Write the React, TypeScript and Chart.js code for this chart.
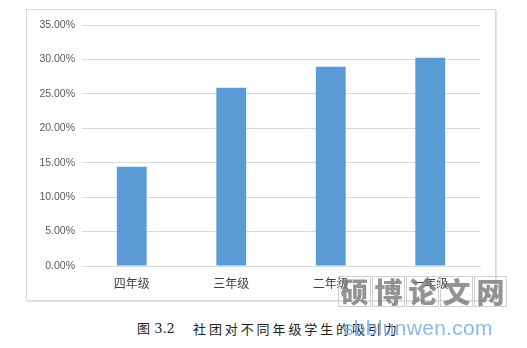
import React, { useEffect, useRef } from "react";
import { Chart, registerables } from "chart.js";

Chart.register(...registerables);

const categories = ["四年级", "三年级", "二年级", "一年级"];
const values = [0.144, 0.259, 0.2895, 0.3025];
const yTicks = [0, 0.05, 0.1, 0.15, 0.2, 0.25, 0.3, 0.35];
const captionLabel = "图 3.2";
const captionText = "社团对不同年级学生的吸引力";
const watermarkChars = ["硕", "博", "论", "文", "网"];
const watermarkUrl = "sbblunwen.com";

export default function App() {
  const ref = useRef<HTMLCanvasElement | null>(null);

  useEffect(() => {
    document.body.style.margin = "0";
    const chart = new Chart(ref.current as HTMLCanvasElement, {
      type: "bar",
      data: {
        labels: categories,
        datasets: [
          {
            data: values,
            backgroundColor: "#5b9bd5",
            barPercentage: 0.3,
            categoryPercentage: 1,
          },
        ],
      },
      options: {
        animation: false,
        responsive: false,
        maintainAspectRatio: false,
        layout: { padding: { top: 15, right: 15, bottom: 0, left: 0 } },
        plugins: { legend: { display: false }, tooltip: { enabled: false } },
        scales: {
          x: {
            grid: { display: false, drawTicks: false },
            border: { display: true, color: "#d9d9d9" },
            ticks: {
              color: "#404040",
              padding: 10,
              font: { family: "'Noto Sans CJK SC', sans-serif", size: 12 },
            },
            afterFit: (s: any) => {
              s.height = 34;
            },
          },
          y: {
            min: 0,
            max: 0.35,
            afterBuildTicks: (s: any) => {
              s.ticks = yTicks.map((v) => ({ value: v }));
            },
            grid: { color: "#d9d9d9", drawTicks: false },
            border: { display: false },
            ticks: {
              color: "#595959",
              padding: 7,
              font: { family: "'Liberation Sans', Arial, sans-serif", size: 10.5 },
              callback: (v: any) => (Number(v) * 100).toFixed(2) + "%",
            },
            afterFit: (s: any) => {
              s.width = 55;
            },
          },
        },
      },
    });
    return () => chart.destroy();
  }, []);

  return (
    <div style={{ position: "relative", width: 527, height: 348, background: "#fff", overflow: "hidden" }}>
      <div
        style={{
          position: "absolute",
          left: 26,
          top: 9,
          width: 470,
          height: 292,
          border: "1px solid #d9d9d9",
          boxShadow: "1px 1px 1px #e6e6e6",
          boxSizing: "border-box",
        }}
      >
        <canvas ref={ref} width={468} height={290} style={{ display: "block" }} />
      </div>
      <div
        style={{
          position: "absolute",
          left: 137,
          top: 321,
          fontFamily: "'DejaVu Serif', 'Noto Sans CJK SC', serif",
          fontSize: 13,
          color: "#222",
          whiteSpace: "pre",
          lineHeight: "16px",
        }}
      >
        {captionLabel}
      </div>
      <div
        style={{
          position: "absolute",
          left: 193,
          top: 321,
          fontFamily: "'Noto Sans CJK SC', serif",
          fontSize: 13,
          letterSpacing: 2.9,
          color: "#222",
          whiteSpace: "pre",
          lineHeight: "16px",
        }}
      >
        {captionText}
      </div>
      <div style={{ position: "absolute", left: 338, top: 276, display: "flex" }}>
        {watermarkChars.map((c) => (
          <div
            key={c}
            style={{
              width: 33,
              height: 31,
              marginRight: 1,
              border: "1px solid #d0d0d0",
              boxSizing: "border-box",
              fontFamily: "'Noto Sans CJK SC', sans-serif",
              fontWeight: 900,
              fontSize: 28,
              lineHeight: "29px",
              textAlign: "center",
              color: "rgba(120,120,120,0.8)",
            }}
          >
            {c}
          </div>
        ))}
      </div>
      <div
        style={{
          position: "absolute",
          left: 343,
          top: 316,
          fontFamily: "'Liberation Sans', Arial, sans-serif",
          fontSize: 21,
          lineHeight: "24px",
          color: "rgba(120,170,230,0.85)",
          letterSpacing: 0.3,
        }}
      >
        {watermarkUrl}
      </div>
    </div>
  );
}
